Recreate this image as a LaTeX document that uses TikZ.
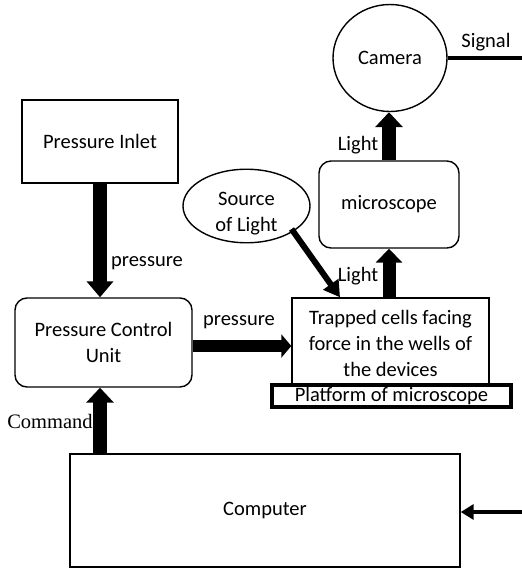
\documentclass[tikz,border=0pt]{standalone}
\usepackage{fontspec}
\setmainfont{Carlito}
\newfontfamily\timesfont{Liberation Serif}
\usetikzlibrary{arrows.meta,shapes.geometric,calc}
\tikzset{
  rbox/.style={draw, line width=1.4pt, rounded corners=12pt, inner sep=0pt, align=center},
  lbl/.style={inner sep=0pt},
}
\begin{document}
\begin{tikzpicture}[x=1pt,y=-1pt, font=\fontsize{20.5}{26}\selectfont]
\useasboundingbox (0,0) rectangle (522,568);
% nodes
\node[draw, line width=1.4pt, minimum width=156pt, minimum height=83pt, inner sep=0pt] (inlet) at (100,141.5) {Pressure Inlet};
\node[rbox, minimum width=177pt, minimum height=89pt] (pcu) at (103.5,342.5) {Pressure Control\\Unit};
\node[draw, line width=1.4pt, minimum width=197pt, minimum height=86pt, inner sep=0pt] (trapped) at (390.5,341) {\raisebox{-4pt}[\height][\depth]{\begin{tabular}{@{}c@{}}Trapped cells facing\\force in the wells of\\the devices\end{tabular}}};
\node[draw, line width=4pt, minimum width=239pt, minimum height=22pt, inner sep=0pt, fill=white] (platform) at (391.5,396) {Platform of microscope};
\node[rbox, minimum width=140pt, minimum height=87pt] (micro) at (389,204.5) {microscope};
\node[draw, ellipse, line width=1.4pt, minimum width=114pt, minimum height=107pt, inner sep=0pt] (camera) at (390,58) {Camera};
\node[draw, ellipse, line width=1.4pt, minimum width=127pt, minimum height=44pt, inner sep=0pt] (source) at (246.5,206) {\raisebox{-7pt}[\height][\depth]{\begin{tabular}{@{}c@{}}Source\\of Light\end{tabular}}};
\node[draw, line width=1.4pt, minimum width=390pt, minimum height=113pt, inner sep=0pt] (computer) at (265,510.5) {Computer};
% helper coordinates
\coordinate (cmd) at ([xshift=-3.5pt]pcu.south);
\coordinate (pa) at ([yshift=-3.5pt]pcu.east);
\coordinate (st) at ([xshift=-50.5pt]trapped.north);
\coordinate (ss) at ([shift={(45pt,-23pt)}]source.center);
\coordinate (sigend) at (522,58);
\coordinate (cin) at (522,512);
% connectors
\draw[line width=14pt, -{Triangle[width=26pt,length=16pt]}] (inlet.south) -- (inlet.south |- pcu.north);
\draw[line width=14pt, -{Triangle[width=27pt,length=15pt]}] (cmd |- computer.north) -- (cmd);
\draw[line width=12pt, -{Triangle[width=23pt,length=10pt]}] (pa) -- (pa -| trapped.west);
\draw[line width=13pt, -{Triangle[width=26pt,length=14pt]}] (micro.south |- trapped.north) -- (micro.south);
\draw[line width=14pt, -{Triangle[width=27pt,length=15pt]}] (micro.north) -- (micro.north |- camera.south);
\draw[line width=6pt, -{Triangle[width=18pt,length=16pt]}] (ss) -- (st);
\draw[line width=4pt] (camera.east) -- (sigend);
\draw[line width=4.5pt, -{Triangle[width=15pt,length=13pt]}] (cin) -- (cin -| computer.east);
% labels
\node[lbl] (l1) at (147,263) {pressure};
\node[lbl] (l2) at (239,322) {pressure};
\node[lbl] (l3) at (358,145) {Light};
\node[lbl] (l4) at (358,276) {Light};
\node[lbl] (l5) at (486,42) {Signal};
\node[inner sep=0pt, font=\timesfont\fontsize{20.5}{24}\selectfont] (l6) at (50,421) {Command};
\end{tikzpicture}
\end{document}
